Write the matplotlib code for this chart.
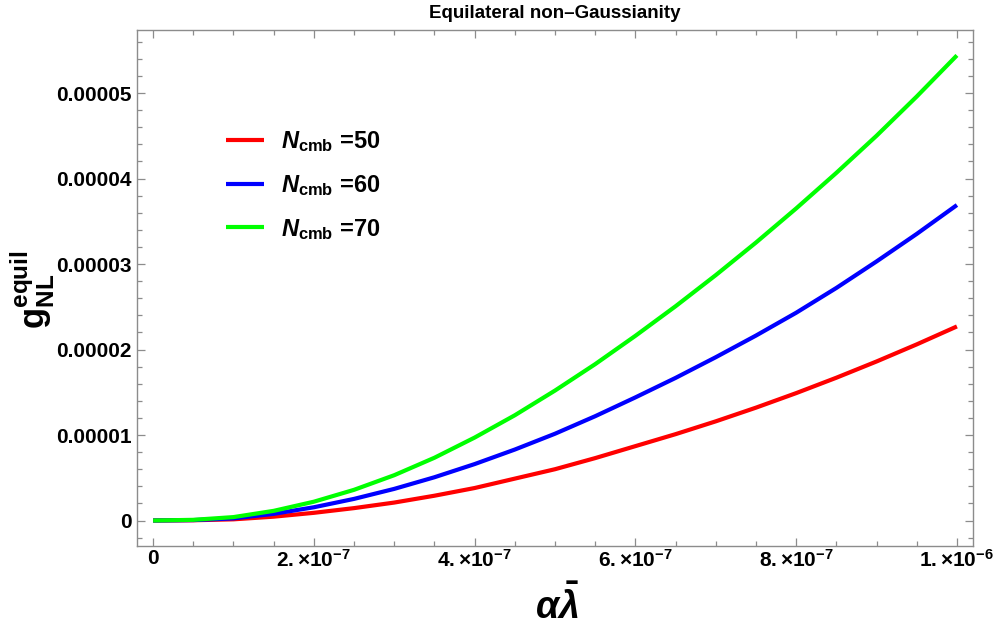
import matplotlib
matplotlib.use("Agg")
import matplotlib.pyplot as plt
from matplotlib.ticker import FixedLocator, FixedFormatter

plt.rcParams['font.family'] = ['Liberation Sans', 'DejaVu Sans']
plt.rcParams['mathtext.fontset'] = 'custom'
plt.rcParams['mathtext.rm'] = 'Liberation Sans:bold'
plt.rcParams['mathtext.bf'] = 'Liberation Sans:bold'
plt.rcParams['mathtext.it'] = 'Liberation Sans:bold:italic'

# ---- data (x in units of 1e-6, y in units of 1e-5) ----
alpha_lambda = [0.0, 0.05, 0.10, 0.15, 0.20, 0.25, 0.30, 0.35, 0.40, 0.45, 0.50,
                0.55, 0.60, 0.65, 0.70, 0.75, 0.80, 0.85, 0.90, 0.95, 1.00]
g_N50 = [0, 0.003, 0.014, 0.045, 0.09, 0.145, 0.21, 0.29, 0.38, 0.49, 0.60,
         0.73, 0.87, 1.01, 1.16, 1.32, 1.49, 1.67, 1.86, 2.06, 2.27]
g_N60 = [0, 0.005, 0.025, 0.078, 0.155, 0.253, 0.37, 0.506, 0.66, 0.83, 1.015,
         1.22, 1.44, 1.668, 1.91, 2.163, 2.43, 2.72, 3.03, 3.352, 3.69]
g_N70 = [0, 0.008, 0.04, 0.113, 0.22, 0.359, 0.53, 0.734, 0.97, 1.231, 1.52,
         1.829, 2.16, 2.506, 2.87, 3.251, 3.65, 4.066, 4.50, 4.959, 5.44]
series_labels = ['50', '60', '70']
series_colors = ['#ff0000', '#0000ff', '#00ff00']

x_ticks = [0.0, 0.2e-6, 0.4e-6, 0.6e-6, 0.8e-6, 1.0e-6]
x_tick_labels = ['0', r'$2.{\times}10^{-7}$', r'$4.{\times}10^{-7}$', r'$6.{\times}10^{-7}$',
                 r'$8.{\times}10^{-7}$', r'$1.{\times}10^{-6}$']
y_ticks = [0.0, 1e-5, 2e-5, 3e-5, 4e-5, 5e-5]
y_tick_labels = ['0', '0.00001', '0.00002', '0.00003', '0.00004', '0.00005']

W, H = 998, 638
fig = plt.figure(figsize=(W / 100, H / 100), dpi=100)
ax = fig.add_axes([137 / W, (H - 546) / H, 836 / W, 516 / H])

xs = [v * 1e-6 for v in alpha_lambda]
for ys, lab, col in zip([g_N50, g_N60, g_N70], series_labels, series_colors):
    ax.plot(xs, [v * 1e-5 for v in ys], color=col, lw=3.0, solid_capstyle='butt',
            solid_joinstyle='round', label=r'$N_{\mathbf{cmb}}$ =' + lab)

ax.set_xlim(-0.02e-6, 1.02e-6)
ax.set_ylim(-0.298e-5, 5.737e-5)

ax.xaxis.set_major_locator(FixedLocator(x_ticks))
ax.xaxis.set_major_formatter(FixedFormatter(x_tick_labels))
ax.xaxis.set_minor_locator(FixedLocator([i * 0.05e-6 for i in range(21)]))
ax.yaxis.set_major_locator(FixedLocator(y_ticks))
ax.yaxis.set_major_formatter(FixedFormatter(y_tick_labels))
ax.yaxis.set_minor_locator(FixedLocator([i * 0.2e-5 for i in range(-1, 29)]))

frame_col = '#8c8c8c'
for sp in ax.spines.values():
    sp.set_color(frame_col)
    sp.set_linewidth(1.0)
ax.tick_params(which='both', direction='in', top=True, right=True, color=frame_col,
               width=0.9)
ax.tick_params(which='major', length=6)
ax.tick_params(which='minor', length=3.5)
ax.tick_params(axis='x', which='major', pad=2)
ax.tick_params(axis='y', which='major', pad=4)
for lbl in ax.get_xticklabels() + ax.get_yticklabels():
    lbl.set_fontsize(15)
    lbl.set_fontweight('bold')

leg = ax.legend(loc='upper left', bbox_to_anchor=(0.107, 0.808), frameon=False,
                prop={'family': 'Liberation Sans', 'weight': 'bold', 'size': 17},
                handlelength=1.61, handletextpad=0.71, labelspacing=0.8,
                borderpad=0, borderaxespad=0)

fig.text(555 / W, 1 - 14 / H, 'Equilateral non\u2013Gaussianity', ha='center', va='center',
         fontsize=13.5, fontweight='bold')
fig.text(33 / W, 1 - 290 / H, r'$\mathbf{g}^{\mathbf{equil}}_{\mathbf{NL}}$', rotation=90,
         ha='center', va='center', fontsize=25)
fig.text(557 / W, 1 - 606 / H, r'$\alpha\bar{\lambda}$', ha='center', va='center',
         fontsize=27)

fig.savefig('out.png', dpi=100, facecolor='white')
